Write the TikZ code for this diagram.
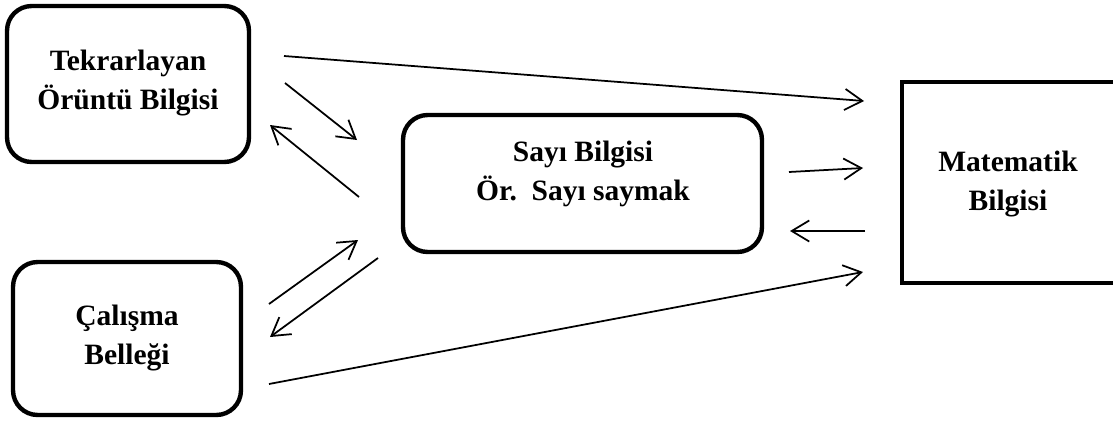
\documentclass[tikz,border=0pt]{standalone}
\usepackage{fontspec}
\setmainfont{Liberation Serif}
\usetikzlibrary{arrows.meta}

\begin{document}
\begin{tikzpicture}[x=0.02cm, y=-0.02cm,
    kutu/.style={draw, line width=2.5pt, rounded corners=14pt, inner sep=0pt},
    yazi/.style={font=\bfseries\fontsize{16.8}{22}\selectfont, align=center, inner sep=0pt},
    ok/.style={-{Straight Barb[length=10pt, width=12pt]}, line width=1pt}]
    \useasboundingbox (0,0) rectangle (1113,423);
    \clip (0,0) rectangle (1113,423);

    % Kutular
    \node[kutu, minimum width=4.84cm, minimum height=3.12cm] (tek) at (128,84) {};
    \node[kutu, minimum width=7.18cm, minimum height=2.74cm] (sayi) at (582.5,183.5) {};
    \node[kutu, line width=2.8pt, rounded corners=0pt, minimum width=4.36cm, minimum height=4.02cm] (mat) at (1011,182.5) {};
    \node[kutu, minimum width=4.56cm, minimum height=3.06cm] (cal) at (127,338.5) {};

    % Yazilar
    \node[yazi] (tekyazi) at (128,83) {Tekrarlayan\\Örüntü Bilgisi};
    \node[yazi] (sayiyazi) at (583,174) {Sayı Bilgisi\\Ör.\ \ Sayı saymak};
    \node[yazi] (matyazi) at (1008,184) {Matematik\\Bilgisi};
    \node[yazi] (calyazi) at (127,338) {Çalışma\\Belleği};

    % Ok uclari
    \coordinate (tekA) at (284,56);  \coordinate (matA) at (864,101);
    \coordinate (tekB) at (285,83);  \coordinate (sayiB) at (357,140);
    \coordinate (sayiC) at (359,197); \coordinate (tekC) at (270,125);
    \coordinate (sayiD) at (789,172); \coordinate (matD) at (863,168);
    \coordinate (matE) at (865,231); \coordinate (sayiE) at (790,231);
    \coordinate (calF) at (269,384); \coordinate (matF) at (863,272);
    \coordinate (calG) at (269,304); \coordinate (sayiG) at (358,240);
    \coordinate (sayiH) at (378,258); \coordinate (calH) at (270,337);

    % Oklar
    \draw[ok] (tekA) -- (matA);
    \draw[ok] (tekB) -- (sayiB);
    \draw[ok] (sayiC) -- (tekC);
    \draw[ok] (sayiD) -- (matD);
    \draw[ok] (matE) -- (sayiE);
    \draw[ok] (calF) -- (matF);
    \draw[ok] (calG) -- (sayiG);
    \draw[ok] (sayiH) -- (calH);
\end{tikzpicture}
\end{document}
